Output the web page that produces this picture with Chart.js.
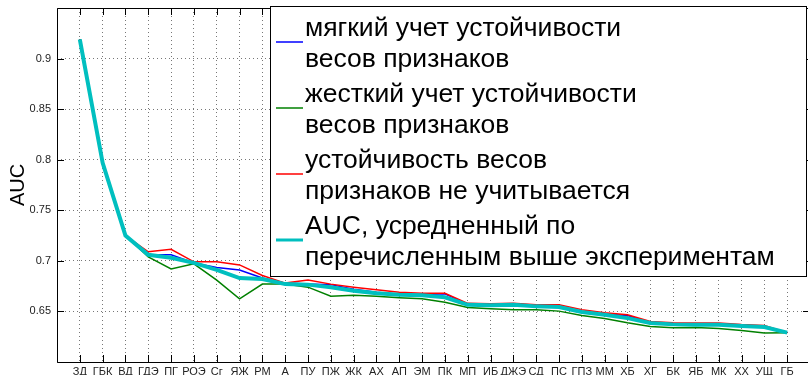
<!DOCTYPE html>
<html>
<head>
<meta charset="utf-8">
<script src="https://cdn.jsdelivr.net/npm/chart.js@4.4.1/dist/chart.umd.min.js"></script>
<style>
  html, body { margin: 0; padding: 0; background: #fff; overflow: hidden; }
  #wrap { width: 808px; height: 375px; overflow: hidden; }
</style>
</head>
<body>
<div id="wrap"><canvas id="aucChart" width="815" height="375"></canvas></div>
<script>
// feature subsets along the x axis
var categories = ['ЗД', 'ГБК', 'ВД', 'ГДЭ', 'ПГ', 'РОЭ', 'Сг', 'ЯЖ', 'РМ', 'А', 'ПУ', 'ПЖ', 'ЖК', 'АХ', 'АП', 'ЭМ',
                  'ПК', 'МП', 'ИБ', 'ДЖЭ', 'СД', 'ПС', 'ГПЗ', 'ММ', 'ХБ', 'ХГ', 'БК', 'ЯБ', 'МК', 'ХХ', 'УЩ', 'ГБ'];

// soft account of weight stability
var softAuc = [0.919, 0.797, 0.725, 0.706, 0.706, 0.698, 0.6935, 0.691, 0.683, 0.678, 0.677, 0.6765, 0.672, 0.669, 0.667, 0.6665,
               0.6675, 0.657, 0.6565, 0.657, 0.656, 0.655, 0.650, 0.6475, 0.646, 0.639, 0.6378, 0.6375, 0.6375, 0.636, 0.635, 0.629];
// hard account of weight stability
var hardAuc = [0.919, 0.795, 0.725, 0.704, 0.692, 0.697, 0.681, 0.6625, 0.677, 0.677, 0.674, 0.665, 0.666, 0.665, 0.6635, 0.6625,
               0.659, 0.654, 0.6527, 0.6517, 0.6517, 0.6503, 0.646, 0.643, 0.6388, 0.6352, 0.6339, 0.634, 0.633, 0.6312, 0.6286, 0.629];
// stability ignored
var noStabAuc = [0.919, 0.798, 0.725, 0.709, 0.7115, 0.699, 0.699, 0.696, 0.6855, 0.678, 0.681, 0.677, 0.674, 0.6715, 0.669, 0.668,
                 0.668, 0.658, 0.6576, 0.658, 0.6566, 0.6566, 0.6517, 0.6487, 0.6467, 0.6401, 0.6388, 0.6385, 0.6385, 0.637, 0.6362, 0.629];
// mean over the three runs
var meanAuc = [0.919, 0.797, 0.725, 0.706, 0.703, 0.698, 0.691, 0.683, 0.682, 0.677, 0.6765, 0.674, 0.6705, 0.668, 0.6665, 0.666,
               0.664, 0.6565, 0.656, 0.6566, 0.655, 0.6543, 0.6494, 0.6467, 0.6434, 0.6385, 0.6372, 0.6368, 0.6368, 0.6355, 0.6345, 0.629];

var yTicks = [0.65, 0.7, 0.75, 0.8, 0.85, 0.9];

var legendLines = [
  ['мягкий учет устойчивости', 'весов признаков'],
  ['жесткий учет устойчивости', 'весов признаков'],
  ['устойчивость весов', 'признаков не учитывается'],
  ['AUC, усредненный по', 'перечисленным выше экспериментам']
];

function points(arr) {
  return arr.map(function (v, i) { return { x: i + 1, y: v }; });
}

var FONT = '"Liberation Sans", Arial, Helvetica, sans-serif';

// box, inward tick marks and the boxed legend (matlab style)
var framePlugin = {
  id: 'frame',
  afterDatasetsDraw: function (chart) {
    var ctx = chart.ctx, a = chart.chartArea;
    var xs = chart.scales.x, ys = chart.scales.y;
    ctx.save();
    ctx.strokeStyle = '#000';
    ctx.lineWidth = 1;
    ctx.beginPath();
    ctx.rect(a.left + 0.5, a.top + 0.5, a.right - a.left, a.bottom - a.top);
    ctx.stroke();
    ctx.beginPath();
    for (var i = 1; i <= categories.length; i++) {
      var px = Math.round(xs.getPixelForValue(i)) + 0.5;
      ctx.moveTo(px, a.bottom); ctx.lineTo(px, a.bottom - 7);
      ctx.moveTo(px, a.top); ctx.lineTo(px, a.top + 7);
    }
    yTicks.forEach(function (t) {
      var py = Math.round(ys.getPixelForValue(t)) + 0.5;
      ctx.moveTo(a.left, py); ctx.lineTo(a.left + 7, py);
      ctx.moveTo(a.right, py); ctx.lineTo(a.right - 7, py);
    });
    ctx.stroke();

    // legend
    var bx = 270, by = 6, bw = 536, bh = 270;
    ctx.fillStyle = '#fff';
    ctx.fillRect(bx, by, bw, bh);
    ctx.strokeStyle = '#000';
    ctx.strokeRect(bx + 0.5, by + 0.5, bw, bh);
    ctx.font = '26.5px ' + FONT;
    ctx.textBaseline = 'alphabetic';
    ctx.textAlign = 'left';
    chart.data.datasets.forEach(function (ds, k) {
      var base = 36 + 66 * k;
      ctx.strokeStyle = ds.borderColor;
      ctx.lineWidth = k === 3 ? 3 : 1.5;
      ctx.beginPath();
      ctx.moveTo(276, base + 6);
      ctx.lineTo(303, base + 6);
      ctx.stroke();
      ctx.fillStyle = '#000';
      ctx.fillText(ds.label[0], 305, base);
      ctx.fillText(ds.label[1], 305, base + 31);
    });
    ctx.restore();
  }
};

var ctx = document.getElementById('aucChart').getContext('2d');

var aucChart = new Chart(ctx, {
  type: 'line',
  data: {
    datasets: [
      { label: legendLines[0], data: points(softAuc), borderColor: '#0000ff', borderWidth: 1.5, order: 3 },
      { label: legendLines[1], data: points(hardAuc), borderColor: '#008000', borderWidth: 1.5, order: 2 },
      { label: legendLines[2], data: points(noStabAuc), borderColor: '#ff0000', borderWidth: 1.5, order: 1 },
      { label: legendLines[3], data: points(meanAuc), borderColor: '#00bfbf', borderWidth: 4, order: 0 }
    ]
  },
  options: {
    responsive: false,
    devicePixelRatio: 1,
    animation: false,
    layout: { padding: { top: 8, right: 5, left: 0, bottom: 0 } },
    elements: {
      point: { radius: 0, hoverRadius: 0 },
      line: { tension: 0, fill: false, borderJoinStyle: 'miter' }
    },
    plugins: {
      legend: { display: false },
      tooltip: { enabled: false }
    },
    scales: {
      x: {
        type: 'linear',
        min: 0,
        max: 33,
        afterFit: function (s) { s.height = 13; s.paddingLeft = 0; s.paddingRight = 0; },
        ticks: {
          stepSize: 1,
          autoSkip: false,
          maxRotation: 0,
          minRotation: 0,
          padding: 3,
          color: '#222',
          font: { family: FONT, size: 11 },
          callback: function (v) { return categories[v - 1] || ''; }
        },
        grid: { color: '#777', lineWidth: 1, drawTicks: false },
        border: { display: false, dash: [1, 3] }
      },
      y: {
        min: 0.6,
        max: 0.95,
        afterFit: function (s) { s.width = 57; s.paddingTop = 0; s.paddingBottom = 0; },
        afterBuildTicks: function (s) {
          s.ticks = [0.6].concat(yTicks, [0.95]).map(function (v) { return { value: v }; });
        },
        ticks: {
          padding: 6,
          color: '#222',
          font: { family: FONT, size: 11 },
          callback: function (v) {
            return yTicks.some(function (t) { return Math.abs(t - v) < 1e-6; }) ? String(+v.toFixed(2)) : '';
          }
        },
        grid: { color: '#777', lineWidth: 1, drawTicks: false },
        border: { display: false, dash: [1, 3] },
        title: {
          display: true,
          text: 'AUC',
          color: '#000',
          font: { family: FONT, size: 20 },
          padding: { top: 6, bottom: 0 }
        }
      }
    }
  },
  plugins: [framePlugin]
});
</script>
</body>
</html>
